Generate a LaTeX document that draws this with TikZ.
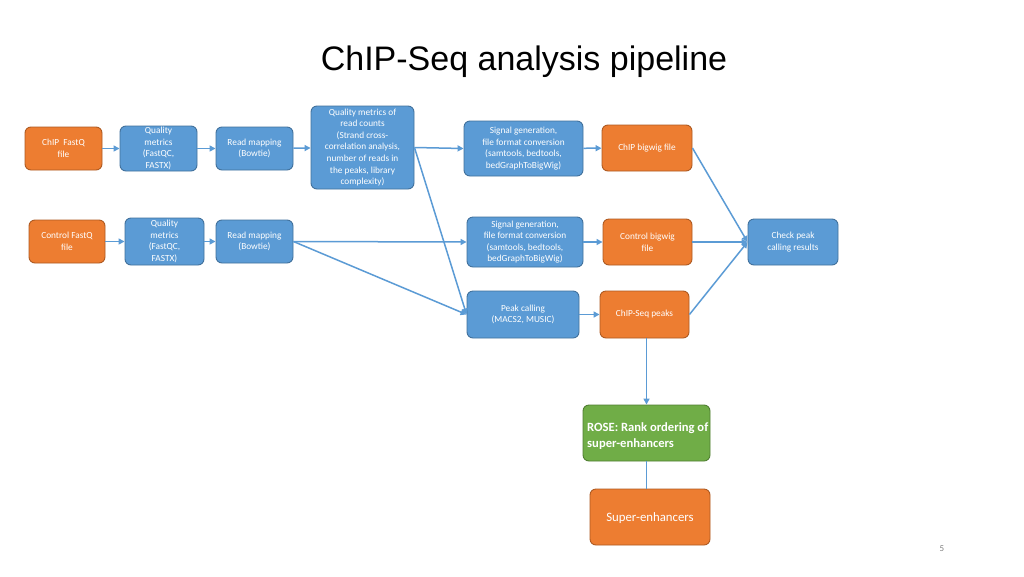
\documentclass[tikz,border=0pt]{standalone}
\usepackage{fontspec}
\setmainfont{Carlito}
\newfontfamily\titlefont{Liberation Sans}
\usetikzlibrary{arrows.meta}
\definecolor{bfill}{HTML}{5B9BD5}
\definecolor{bdraw}{HTML}{41719C}
\definecolor{ofill}{HTML}{ED7D31}
\definecolor{odraw}{HTML}{AE5A21}
\definecolor{gfill}{HTML}{70AD47}
\definecolor{gdraw}{HTML}{507E32}
\definecolor{arr}{HTML}{5B9BD5}
\tikzset{
  box/.style={draw, line width=0.9pt, rounded corners=6pt, text=white, align=center,
    font=\fontsize{9.3}{11.6}\selectfont, inner sep=1pt},
  bluebox/.style={box, fill=bfill, draw=bdraw},
  orangebox/.style={box, fill=ofill, draw=odraw},
  greenbox/.style={box, fill=gfill, draw=gdraw},
  conn/.style={draw=arr, line width=1.5pt, -{Triangle[length=6pt,width=6pt]}},
  plain/.style={draw=arr, line width=1.5pt},
}
\newcommand{\bx}[6]{\node[#1, minimum width=#4pt, minimum height=#5pt] (#2) at (#3) {#6};}
\begin{document}
\begin{tikzpicture}[x=1pt,y=-1pt]
\useasboundingbox[fill=white] (0,0) rectangle (1024,576);
\node[font=\titlefont\fontsize{34}{40}\selectfont, text=black] (title) at (524,62) {ChIP-Seq analysis pipeline};
\node[font=\fontsize{9}{11}\selectfont, text=gray] (pnum) at (942,549) {5};

\bx{orangebox}{cfq}{63.5,148.5}{77}{43}{ChIP\ \ FastQ\\file}
\bx{bluebox}{qm1}{158.5,148.5}{77}{45}{Quality\\metrics\\(FastQC,\\FASTX)}
\bx{bluebox}{rm1}{254.5,148.5}{77}{43}{Read mapping\\(Bowtie)}
\bx{bluebox}{qmrc}{362.5,147.5}{103}{83}{Quality metrics of\\read counts\\(Strand cross-\\correlation analysis,\\number of reads in\\the peaks, library\\complexity)}
\bx{bluebox}{sg1}{523.5,148.5}{119}{55}{Signal generation,\\file format conversion\\(samtools, bedtools,\\bedGraphToBigWig)}
\bx{orangebox}{cbw}{647,148}{90}{46}{ChIP bigwig file}

\bx{orangebox}{tfq}{67,241.5}{76}{43}{Control FastQ\\file}
\bx{bluebox}{qm2}{164.5,241.5}{79}{47}{Quality\\metrics\\(FastQC,\\FASTX)}
\bx{bluebox}{rm2}{254.5,241.5}{77}{43}{Read mapping\\(Bowtie)}
\bx{bluebox}{sg2}{525,242}{116}{50}{Signal generation,\\file format conversion\\(samtools, bedtools,\\bedGraphToBigWig)}
\bx{orangebox}{tbw}{647.5,242}{89}{46}{Control bigwig\\file}
\bx{bluebox}{chk}{793,242}{90}{46}{Check peak\\calling results}

\bx{bluebox}{pc}{523,314.5}{112}{47}{Peak calling\\(MACS2, MUSIC)}
\bx{orangebox}{csp}{644.5,314.5}{89}{47}{ChIP-Seq peaks}

\bx{greenbox}{rose}{646.5,433}{127}{56}{}
\node[anchor=west, text=white, align=left, inner sep=0pt,
  font=\bfseries\fontsize{12.6}{16}\selectfont] (rosetext) at (587,436) {ROSE: Rank ordering of\\super-enhancers};
\bx{orangebox}{se}{650,517}{120}{56}{}
\node[text=white, font=\fontsize{12.8}{15}\selectfont, inner sep=0pt] (setext) at (650,518) {Super-enhancers};

% connectors
\draw[conn] (cfq) -- (qm1);
\draw[conn] (qm1) -- (rm1);
\draw[conn] (rm1) -- (qmrc);
\draw[conn] (qmrc.east) -- (sg1.west);
\draw[conn] (sg1) -- (cbw);
\draw[conn] (qmrc.east) -- (pc.west);
\draw[conn] (tfq) -- (qm2);
\draw[conn] (qm2) -- (rm2);
\draw[conn] (rm2.east) -- (sg2.west);
\draw[conn] (rm2.east) -- (pc.west);
\draw[conn] (sg2) -- (tbw);
\draw[conn] (tbw) -- (chk);
\draw[conn] (cbw.east) -- (chk.west);
\draw[conn] (csp.east) -- (chk.west);
\draw[conn] (pc) -- (csp);
\draw[conn] (csp.south -| rose.north) -- (rose.north);
\draw[plain] (rose.south) -- (se.north -| rose.south);
\end{tikzpicture}
\end{document}
